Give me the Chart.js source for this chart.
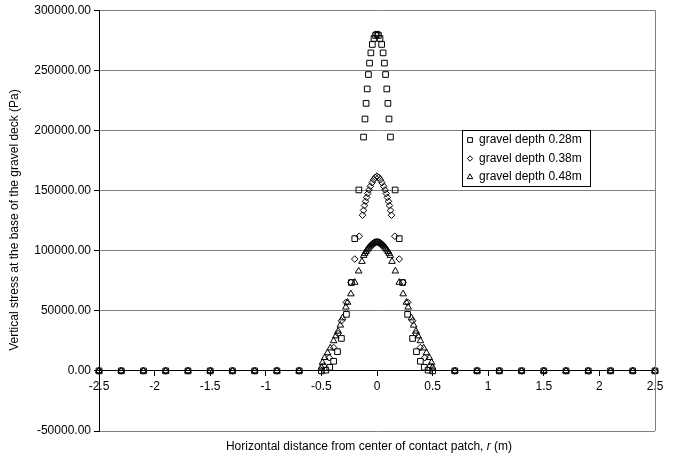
<!DOCTYPE html>
<html>
<head>
<meta charset="utf-8">
<script src="https://cdn.jsdelivr.net/npm/chart.js@4.4.1/dist/chart.umd.min.js"></script>
<style>
  html, body { margin: 0; padding: 0; background: #fff; }
</style>
</head>
<body>
<canvas id="stress-chart" width="673" height="463"></canvas>
<script>
// Horizontal distance r (m) and vertical stress (Pa)
const depth28X = [-2.5, -2.3, -2.1, -1.9, -1.7, -1.5, -1.3, -1.1, -0.9, -0.7,
    -0.5, -0.46, -0.425, -0.39, -0.355, -0.32, -0.275, -0.23, -0.2, -0.163,
    -0.121, -0.108, -0.098, -0.088, -0.077, -0.067, -0.055, -0.042, -0.027, -0.013,
    0,
    0.013, 0.027, 0.042, 0.055, 0.067, 0.077, 0.088, 0.098, 0.108, 0.121,
    0.163, 0.2, 0.23, 0.275, 0.32, 0.355, 0.39, 0.425, 0.46, 0.5,
    0.7, 0.9, 1.1, 1.3, 1.5, 1.7, 1.9, 2.1, 2.3, 2.5];
const depth28Y = [0, 0, 0, 0, 0, 0, 0, 0, 0, 0,
    0, 600, 3000, 8000, 16000, 27000, 47000, 73500, 110000, 150500,
    194500, 209500, 222500, 234500, 246500, 256000, 264500, 271500, 276500, 279000,
    280000,
    279000, 276500, 271500, 264500, 256000, 246500, 234500, 222500, 209500, 194500,
    150500, 110000, 73500, 47000, 27000, 16000, 8000, 3000, 600, 0,
    0, 0, 0, 0, 0, 0, 0, 0, 0, 0];

const depth38X = [-2.5, -2.3, -2.1, -1.9, -1.7, -1.5, -1.3, -1.1, -0.9, -0.7,
    -0.48, -0.43, -0.39, -0.35, -0.32, -0.277, -0.235, -0.2, -0.16, -0.13,
    -0.121, -0.112, -0.103, -0.093, -0.083, -0.072, -0.06, -0.045, -0.03, -0.015,
    0,
    0.015, 0.03, 0.045, 0.06, 0.072, 0.083, 0.093, 0.103, 0.112, 0.121,
    0.13, 0.16, 0.2, 0.235, 0.277, 0.32, 0.35, 0.39, 0.43, 0.48,
    0.7, 0.9, 1.1, 1.3, 1.5, 1.7, 1.9, 2.1, 2.3, 2.5];
const depth38Y = [0, 0, 0, 0, 0, 0, 0, 0, 0, 0,
    4000, 11000, 19400, 31000, 41700, 57000, 73600, 93000, 112000, 129500,
    133500, 137500, 141000, 144300, 147500, 150500, 153500, 156500, 159000, 161000,
    162000,
    161000, 159000, 156500, 153500, 150500, 147500, 144300, 141000, 137500, 133500,
    129500, 112000, 93000, 73600, 57000, 41700, 31000, 19400, 11000, 4000,
    0, 0, 0, 0, 0, 0, 0, 0, 0, 0];

const depth48X = [-2.5, -2.3, -2.1, -1.9, -1.7, -1.5, -1.3, -1.1, -0.9, -0.7,
    -0.5, -0.49, -0.47, -0.445, -0.42, -0.39, -0.37, -0.35, -0.33, -0.31,
    -0.28, -0.265, -0.235, -0.2, -0.165, -0.135, -0.12, -0.11, -0.1, -0.09,
    -0.08, -0.07, -0.06, -0.05, -0.04, -0.03, -0.02, -0.01,
    0,
    0.01, 0.02, 0.03, 0.04, 0.05, 0.06, 0.07, 0.08, 0.09, 0.1,
    0.11, 0.12, 0.135, 0.165, 0.2, 0.235, 0.265, 0.28, 0.31, 0.33,
    0.35, 0.37, 0.39, 0.42, 0.445, 0.47, 0.49, 0.5,
    0.7, 0.9, 1.1, 1.3, 1.5, 1.7, 1.9, 2.1, 2.3, 2.5];
const depth48Y = [0, 0, 0, 0, 0, 0, 0, 0, 0, 0,
    3000, 7000, 11000, 15000, 19000, 25000, 29000, 33000, 38000, 44000,
    53000, 57000, 64000, 73600, 83000, 91000, 96000, 97700, 99200, 100600,
    101900, 103000, 104000, 104900, 105600, 106200, 106600, 106900,
    107000,
    106900, 106600, 106200, 105600, 104900, 104000, 103000, 101900, 100600, 99200,
    97700, 96000, 91000, 83000, 73600, 64000, 57000, 53000, 44000, 38000,
    33000, 29000, 25000, 19000, 15000, 11000, 7000, 3000,
    0, 0, 0, 0, 0, 0, 0, 0, 0, 0];

const seriesLabels = ['gravel depth 0.28m', 'gravel depth 0.38m', 'gravel depth 0.48m'];
const yTicks = [-50000, 0, 50000, 100000, 150000, 200000, 250000, 300000];
const xTicks = [-2.5, -2, -1.5, -1, -0.5, 0, 0.5, 1, 1.5, 2, 2.5];

const yTitle = 'Vertical stress at the base of the gravel deck (Pa)';
const xTitleParts = ['Horizontal distance from center of contact patch, ', 'r', ' (m)'];

const FONT = 'Liberation Sans, Arial, sans-serif';

const toPoints = (xs, ys) => xs.map((x, i) => ({ x: x, y: ys[i] }));

const markerStyles = [
    { pointStyle: 'rect', radius: 4 },
    { pointStyle: 'rectRot', radius: 3.3 },
    { pointStyle: 'triangle', radius: 3.8 }
];

// titles, right frame edge and the boxed legend
const decorations = {
    id: 'decorations',
    afterDraw(chart) {
        const ctx = chart.ctx;
        const area = chart.chartArea;
        ctx.save();

        ctx.strokeStyle = '#808080';
        ctx.lineWidth = 1;
        ctx.beginPath();
        ctx.moveTo(Math.round(area.right) + 0.5, area.top);
        ctx.lineTo(Math.round(area.right) + 0.5, area.bottom);
        ctx.stroke();

        ctx.fillStyle = '#000';
        ctx.textBaseline = 'middle';

        // y title
        ctx.save();
        ctx.translate(15, 220);
        ctx.rotate(-Math.PI / 2);
        ctx.font = '12px ' + FONT;
        ctx.textAlign = 'center';
        ctx.fillText(yTitle, 0, 0);
        ctx.restore();

        // x title, with italic r
        const fonts = ['12px ' + FONT, 'italic 12px ' + FONT, '12px ' + FONT];
        let total = 0;
        const widths = xTitleParts.map((t, i) => {
            ctx.font = fonts[i];
            const w = ctx.measureText(t).width;
            total += w;
            return w;
        });
        let tx = 369 - total / 2;
        ctx.textAlign = 'left';
        xTitleParts.forEach((t, i) => {
            ctx.font = fonts[i];
            ctx.fillText(t, tx, 447);
            tx += widths[i];
        });

        // legend
        const lx = 462, ly = 130, lw = 128, lh = 56;
        ctx.fillStyle = '#fff';
        ctx.fillRect(lx, ly, lw, lh);
        ctx.strokeStyle = '#000';
        ctx.strokeRect(lx + 0.5, ly + 0.5, lw, lh);
        seriesLabels.forEach((label, i) => {
            const rowY = ly + 10 + i * 18.5;
            ctx.strokeStyle = '#000';
            ctx.fillStyle = 'rgba(0,0,0,0)';
            ctx.lineWidth = 1;
            Chart.helpers.drawPoint(ctx, {
                pointStyle: markerStyles[i].pointStyle,
                radius: markerStyles[i].radius - 0.6,
                borderWidth: 1,
                rotation: 0
            }, lx + 8, rowY);
            ctx.fillStyle = '#000';
            ctx.font = '12px ' + FONT;
            ctx.textAlign = 'left';
            ctx.fillText(label, lx + 17, rowY);
        });

        ctx.restore();
    }
};

const makeDataset = (label, xs, ys, i) => ({
    label: label,
    data: toPoints(xs, ys),
    showLine: false,
    pointStyle: markerStyles[i].pointStyle,
    pointRadius: markerStyles[i].radius,
    pointBorderWidth: 1,
    pointBorderColor: '#000',
    pointBackgroundColor: 'rgba(0,0,0,0)',
    clip: false
});

new Chart(document.getElementById('stress-chart'), {
    type: 'scatter',
    data: {
        datasets: [
            makeDataset(seriesLabels[0], depth28X, depth28Y, 0),
            makeDataset(seriesLabels[1], depth38X, depth38Y, 1),
            makeDataset(seriesLabels[2], depth48X, depth48Y, 2)
        ]
    },
    options: {
        responsive: false,
        animation: false,
        devicePixelRatio: 1,
        layout: { padding: { left: 0, top: 10, right: 18, bottom: 32 } },
        plugins: {
            legend: { display: false },
            tooltip: { enabled: false }
        },
        scales: {
            x: {
                type: 'linear',
                position: { y: 0 },
                min: -2.5,
                max: 2.5,
                afterBuildTicks: (scale) => {
                    scale.ticks = xTicks.map(v => ({ value: v }));
                },
                ticks: {
                    autoSkip: false,
                    maxRotation: 0,
                    padding: 4,
                    color: '#000',
                    font: { family: FONT, size: 12 },
                    callback: (v) => String(v)
                },
                grid: {
                    drawOnChartArea: false,
                    drawTicks: true,
                    tickLength: 5,
                    tickColor: '#000'
                },
                border: { display: true, color: '#000', width: 1 }
            },
            y: {
                min: -50000,
                max: 300000,
                afterBuildTicks: (scale) => {
                    scale.ticks = yTicks.map(v => ({ value: v }));
                },
                afterFit: (scale) => { scale.width = 99; },
                ticks: {
                    padding: 3,
                    color: '#000',
                    font: { family: FONT, size: 12 },
                    callback: (v) => v.toFixed(2)
                },
                grid: {
                    color: '#808080',
                    tickColor: '#000',
                    tickLength: 5,
                    lineWidth: 1
                },
                border: { display: true, color: '#000', width: 1 }
            }
        }
    },
    plugins: [decorations]
});
</script>
</body>
</html>
